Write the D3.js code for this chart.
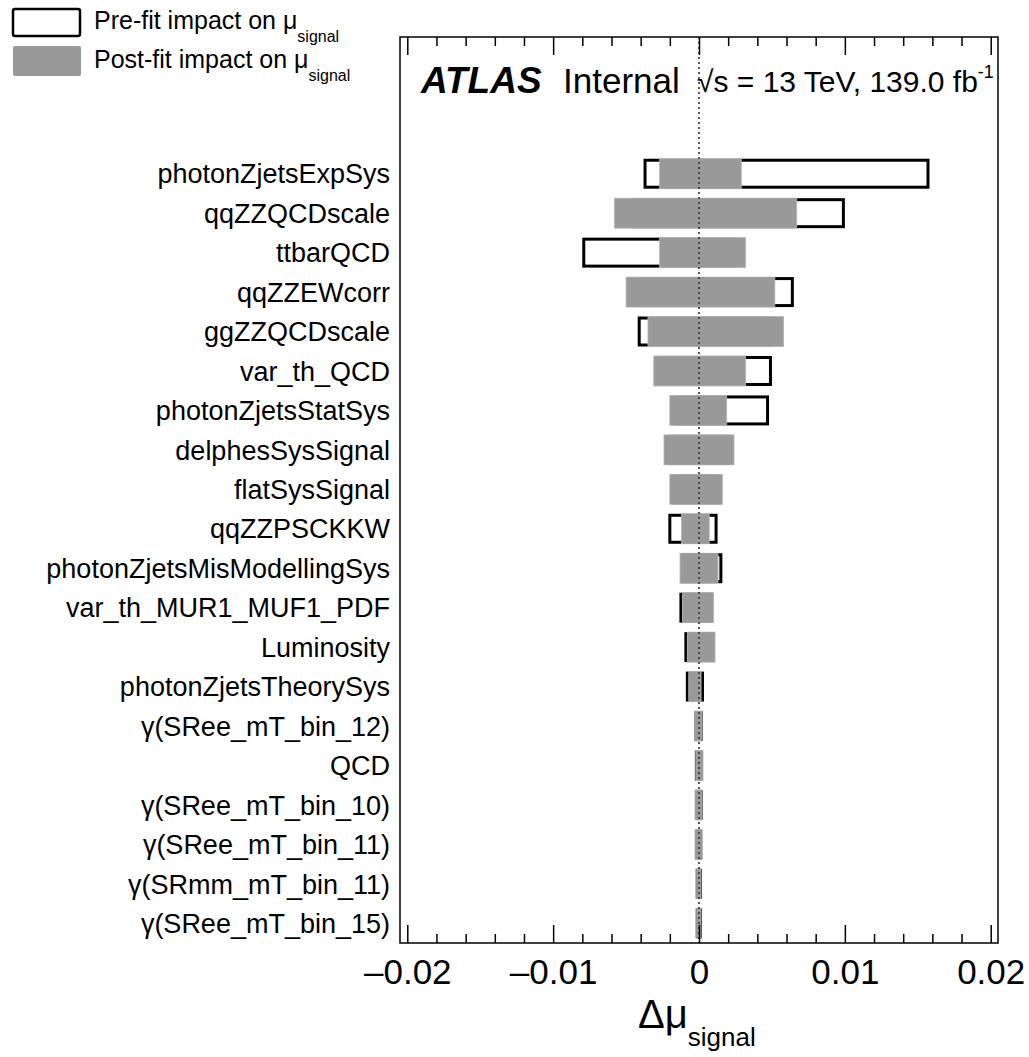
<!DOCTYPE html>
<html>
<head>
<meta charset="utf-8">
<script src="https://cdn.jsdelivr.net/npm/d3@7"></script>
<style>
  body { margin: 0; background: #fff; }
  text { font-family: "Liberation Sans", Arial, sans-serif; fill: #000; }
</style>
</head>
<body>
<script>
// nuisance parameter names, top to bottom
var params = ["photonZjetsExpSys", "qqZZQCDscale", "ttbarQCD", "qqZZEWcorr", "ggZZQCDscale",
  "var_th_QCD", "photonZjetsStatSys", "delphesSysSignal", "flatSysSignal", "qqZZPSCKKW",
  "photonZjetsMisModellingSys", "var_th_MUR1_MUF1_PDF", "Luminosity", "photonZjetsTheorySys",
  "γ(SRee_mT_bin_12)", "QCD", "γ(SRee_mT_bin_10)", "γ(SRee_mT_bin_11)", "γ(SRmm_mT_bin_11)",
  "γ(SRee_mT_bin_15)"];

// pre-fit impact (down / up)
var preDown = [-0.0037, -0.0045, -0.0079, -0.0040, -0.0041, -0.0025, -0.0015, -0.0020, -0.0017, -0.0020,
  -0.0011, -0.00124, -0.0009, -0.0008, -0.0002, -0.00018, -0.00018, -0.00018, -0.00012, -0.00012];
var preUp = [0.0157, 0.0099, 0.0025, 0.0064, 0.0050, 0.0049, 0.0047, 0.0020, 0.0013, 0.00117,
  0.0015, 0.0008, 0.0009, 0.00024, 0.00014, 0.00018, 0.00014, 0.00012, 0.0001, 0.0001];

// post-fit impact (down / up)
var postDown = [-0.0027, -0.0058, -0.0027, -0.0050, -0.0035, -0.0031, -0.0020, -0.0024, -0.0020, -0.0012,
  -0.0013, -0.00113, -0.0008, -0.0007, -0.00026, -0.00022, -0.00024, -0.00024, -0.00016, -0.00016];
var postUp = [0.0029, 0.0067, 0.0032, 0.0052, 0.0058, 0.0032, 0.0019, 0.0024, 0.0016, 0.0007,
  0.0013, 0.0010, 0.0011, 0.00014, 0.00018, 0.00024, 0.00018, 0.00016, 0.00014, 0.00014];

var majorTicks = [-0.02, -0.01, 0, 0.01, 0.02];
var tickLabels = ["–0.02", "–0.01", "0", "0.01", "0.02"];

var W = 1029, H = 1057;
var frame = { left: 400, right: 998, top: 37, bottom: 943 };

var svg = d3.select("body").append("svg")
    .attr("width", W)
    .attr("height", H);

var x = d3.scaleLinear().domain([-0.0205, 0.0205]).range([frame.left, frame.right]);
var y = d3.scaleBand().domain(params).range([154, frame.bottom]).paddingInner(0.24).paddingOuter(0.12);

var rows = params.map(function(p, i) {
  return { name: p, preDown: preDown[i], preUp: preUp[i], postDown: postDown[i], postUp: postUp[i] };
});

// pre-fit boxes (hollow)
svg.selectAll("rect.pre")
    .data(rows)
    .enter()
    .append("rect")
    .attr("class", "pre")
    .attr("x", function(d) { return x(d.preDown); })
    .attr("y", function(d) { return y(d.name) + 1.5; })
    .attr("width", function(d) { return x(d.preUp) - x(d.preDown); })
    .attr("height", y.bandwidth() - 3)
    .style("fill", "none")
    .style("stroke", "#000")
    .style("stroke-width", 3);

// post-fit boxes (filled grey)
svg.selectAll("rect.post")
    .data(rows)
    .enter()
    .append("rect")
    .attr("class", "post")
    .attr("x", function(d) { return x(d.postDown); })
    .attr("y", function(d) { return y(d.name); })
    .attr("width", function(d) { return x(d.postUp) - x(d.postDown); })
    .attr("height", y.bandwidth())
    .style("fill", "#999")
    .style("stroke", "#b5b5b5")
    .style("stroke-width", 0.8);

// dotted line at zero
svg.append("line")
    .attr("x1", x(0)).attr("x2", x(0))
    .attr("y1", frame.top).attr("y2", frame.bottom)
    .style("stroke", "#333")
    .style("stroke-width", 1.6)
    .style("stroke-dasharray", "2,3");

// parameter labels
svg.selectAll("text.param")
    .data(rows)
    .enter()
    .append("text")
    .attr("class", "param")
    .text(function(d) { return d.name; })
    .attr("x", 390)
    .attr("y", function(d) { return y(d.name) + y.bandwidth() / 2; })
    .attr("dy", "0.36em")
    .attr("text-anchor", "end")
    .style("font-size", "27px");

// minor ticks every 0.002
var minorTicks = d3.range(-20, 21, 2).map(function(v) { return v / 1000; })
    .filter(function(v) { return Math.round(v * 1000) % 10 != 0; });

var bottomMajor = d3.axisBottom(x).tickValues(majorTicks).tickSize(-18)
    .tickFormat(function(d, i) { return tickLabels[i]; });
var bottomMinor = d3.axisBottom(x).tickValues(minorTicks).tickSize(-9).tickFormat("");
var topMajor = d3.axisTop(x).tickValues(majorTicks).tickSize(-18).tickFormat("");
var topMinor = d3.axisTop(x).tickValues(minorTicks).tickSize(-9).tickFormat("");

function drawAxis(ax, yPos) {
  var g = svg.append("g").attr("transform", "translate(0," + yPos + ")").call(ax);
  g.select(".domain").remove();
  g.selectAll("line").style("stroke", "#000").style("stroke-width", 1.5);
  return g;
}
var gb = drawAxis(bottomMajor, frame.bottom);
drawAxis(bottomMinor, frame.bottom);
drawAxis(topMajor, frame.top);
drawAxis(topMinor, frame.top);

gb.selectAll("text")
    .attr("y", 41)
    .attr("dy", 0)
    .style("font-family", "'Liberation Sans', Arial, sans-serif")
    .style("font-size", "35px")
    .style("fill", "#000");

// frame
svg.append("rect")
    .attr("x", frame.left).attr("y", frame.top)
    .attr("width", frame.right - frame.left)
    .attr("height", frame.bottom - frame.top)
    .style("fill", "none")
    .style("stroke", "#000")
    .style("stroke-width", 1.5);

// x axis title
var xt = svg.append("text")
    .attr("x", 638)
    .attr("y", 1028)
    .style("font-size", "40px");
xt.append("tspan").text("Δμ");
xt.append("tspan").text("signal").attr("dy", 18).style("font-size", "26px");

// ATLAS label
svg.append("text").attr("x", 421).attr("y", 93)
    .text("ATLAS")
    .style("font-size", "37px")
    .style("font-weight", "bold")
    .style("font-style", "italic");
svg.append("text").attr("x", 563).attr("y", 93)
    .text("Internal")
    .style("font-size", "35px");
var lumi = svg.append("text").attr("x", 697).attr("y", 92).style("font-size", "30px");
lumi.append("tspan").text("√s = 13 TeV, 139.0 fb");
lumi.append("tspan").text("-1").attr("dy", -14).style("font-size", "18px");

// legend
svg.append("rect")
    .attr("x", 13).attr("y", 9)
    .attr("width", 67).attr("height", 27)
    .attr("rx", 2)
    .style("fill", "#fff")
    .style("stroke", "#000")
    .style("stroke-width", 2.5);
svg.append("rect")
    .attr("x", 13).attr("y", 46)
    .attr("width", 68).attr("height", 30)
    .attr("rx", 2)
    .style("fill", "#999");

var legendText = ["Pre-fit impact on μ", "Post-fit impact on μ"];
legendText.forEach(function(t, i) {
  var lt = svg.append("text").attr("x", 94).attr("y", 29 + i * 39).style("font-size", "25px");
  lt.append("tspan").text(t);
  lt.append("tspan").text("signal").attr("dy", 13).style("font-size", "16px");
});
</script>
</body>
</html>
